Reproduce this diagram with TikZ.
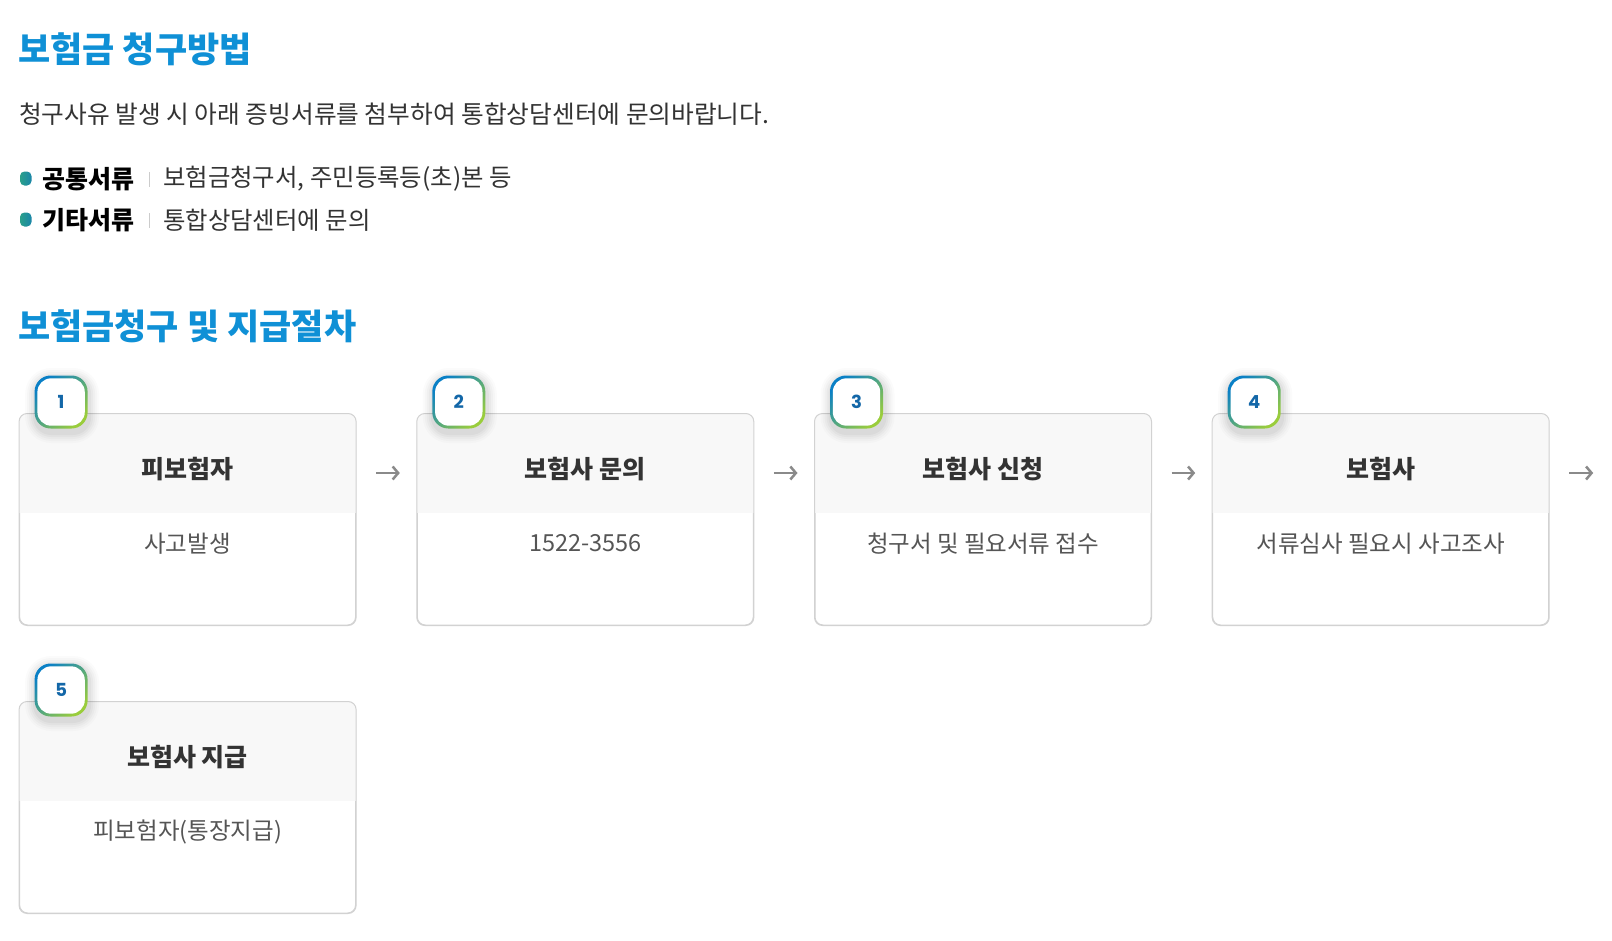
\documentclass[tikz,border=0pt]{standalone}
\usepackage{fontspec}
\setmainfont{Noto Sans CJK KR}
\newfontfamily\numfont{Poppins}
\usetikzlibrary{calc,arrows.meta}
\definecolor{ttlblue}{HTML}{0F90D6}
\definecolor{txtdark}{HTML}{333333}
\definecolor{txtgray}{HTML}{555555}
\definecolor{cardline}{HTML}{D2D2D2}
\definecolor{hdrfill}{HTML}{F8F8F8}
\definecolor{arrowgray}{HTML}{8A8A8A}
\definecolor{numblue}{HTML}{1367A8}
\definecolor{bblue}{HTML}{0A80C6}
\definecolor{bgreen}{HTML}{9ACD3C}
\definecolor{dotA}{HTML}{2AA08A}
\definecolor{dotB}{HTML}{1A86A8}
\definecolor{sepgray}{HTML}{CCCCCC}
\tikzset{
  secttl/.style={anchor=west,inner sep=0pt,text=ttlblue,font=\fontsize{35}{40}\selectfont\bfseries},
  lead/.style={anchor=west,inner sep=0pt,text=txtdark,font=\fontsize{24.7}{28}\selectfont},
  itemkey/.style={anchor=west,inner sep=0pt,text=black,font=\fontsize{25}{28}\selectfont\bfseries},
  itemval/.style={anchor=west,inner sep=0pt,text=txtdark,font=\fontsize{24.4}{28}\selectfont},
  card/.style={draw=cardline,line width=1pt,fill=white,rounded corners=8pt,minimum width=336pt,minimum height=211pt,inner sep=0pt},
  cardttl/.style={inner sep=0pt,text=txtdark,font=\fontsize{25}{28}\selectfont\bfseries},
  cardbody/.style={inner sep=0pt,text=txtgray,font=\fontsize{23.5}{27}\selectfont},
  badgenum/.style={inner sep=0pt,text=numblue,font=\numfont\fontsize{18}{20}\selectfont\bfseries},
  flow/.style={draw=arrowgray,line width=2.5pt,-{Straight Barb[length=5.5pt,width=13pt,line width=2.5pt]}},
  sep/.style={draw=sepgray,line width=1pt},
}
\newcommand\mkcard[4]{% name, center, title, body
  \node[card] (#1) at #2 {};
  \begin{scope}
    \clip[rounded corners=8pt] (#1.north west) rectangle (#1.south east);
    \fill[hdrfill] (#1.north west) rectangle ($(#1.north east)+(0,99)$);
  \end{scope}
  \draw[cardline,line width=1pt,rounded corners=8pt] (#1.north west) rectangle (#1.south east);
  \node[cardttl] (#1t) at ($(#1.north)+(0,56)$) {#3};
  \node[cardbody] (#1b) at ($(#1.north)+(0,130)$) {#4};
}
\newcommand\mkbadge[3]{% name, card, number
  \coordinate (#1c) at ($(#2.north west)+(42,-11.5)$);
  \foreach \s/\o in {10/0.016,8/0.02,6/0.024,4/0.028,2/0.032}{
    \fill[black,opacity=\o,rounded corners=16pt+\s pt] ($(#1c)+(-26-\s,-24-\s)$) rectangle ($(#1c)+(28+\s,31+\s)$);
  }
  \shade[rounded corners=16pt,top color=bblue,bottom color=bgreen,shading angle=45] ($(#1c)+(-26.5,-26.5)$) rectangle ($(#1c)+(26.5,26.5)$);
  \fill[white,rounded corners=13.8pt] ($(#1c)+(-23.7,-23.7)$) rectangle ($(#1c)+(23.7,23.7)$);
  \node[badgenum] (#1) at (#1c) {#3};
}
\begin{document}
\begin{tikzpicture}[x=1pt,y=-1pt]
\useasboundingbox[fill=white] (0,0) rectangle (1612,940);
% section 1
\node[secttl] (h1) at (18,49) {보험금 청구방법};
\node[lead] (lead) at (19,114) {청구사유 발생 시 아래 증빙서류를 첨부하여 통합상담센터에 문의바랍니다.};
\shade[rounded corners=4.5pt,left color=dotA,right color=dotB] (20,171.5) rectangle (31.5,185.5);
\node[itemkey] (k1) at (42,179) {공통서류};
\draw[sep] (149,172) -- (149,187);
\node[itemval] (v1) at (163,179) {보험금청구서, 주민등록등(초)본 등};
\shade[rounded corners=4.5pt,left color=dotA,right color=dotB] (20,212.5) rectangle (31.5,226.5);
\node[itemkey] (k2) at (42,220) {기타서류};
\draw[sep] (149,213) -- (149,228);
\node[itemval] (v2) at (163,220) {통합상담센터에 문의};
% section 2
\node[secttl] (h2) at (18,326) {보험금청구 및 지급절차};
\mkcard{c1}{(187.6,519.5)}{피보험자}{사고발생}
\mkcard{c2}{(585.3,519.5)}{보험사 문의}{1522-3556}
\mkcard{c3}{(983.0,519.5)}{보험사 신청}{청구서 및 필요서류 접수}
\mkcard{c4}{(1380.7,519.5)}{보험사}{서류심사 필요시 사고조사}
\mkcard{c5}{(187.6,807.5)}{보험사 지급}{피보험자(통장지급)}
\mkbadge{n1}{c1}{1}
\mkbadge{n2}{c2}{2}
\mkbadge{n3}{c3}{3}
\mkbadge{n4}{c4}{4}
\mkbadge{n5}{c5}{5}
\draw[flow] ($(c1.east)+(20,-46.5)$) -- ($(c2.west)+(-17,-46.5)$);
\draw[flow] ($(c2.east)+(20,-46.5)$) -- ($(c3.west)+(-17,-46.5)$);
\draw[flow] ($(c3.east)+(20,-46.5)$) -- ($(c4.west)+(-17,-46.5)$);
\coordinate (endc) at ($(c4.east)+(44,-46.5)$);
\draw[flow] ($(c4.east)+(20,-46.5)$) -- (endc);
\end{tikzpicture}
\end{document}
